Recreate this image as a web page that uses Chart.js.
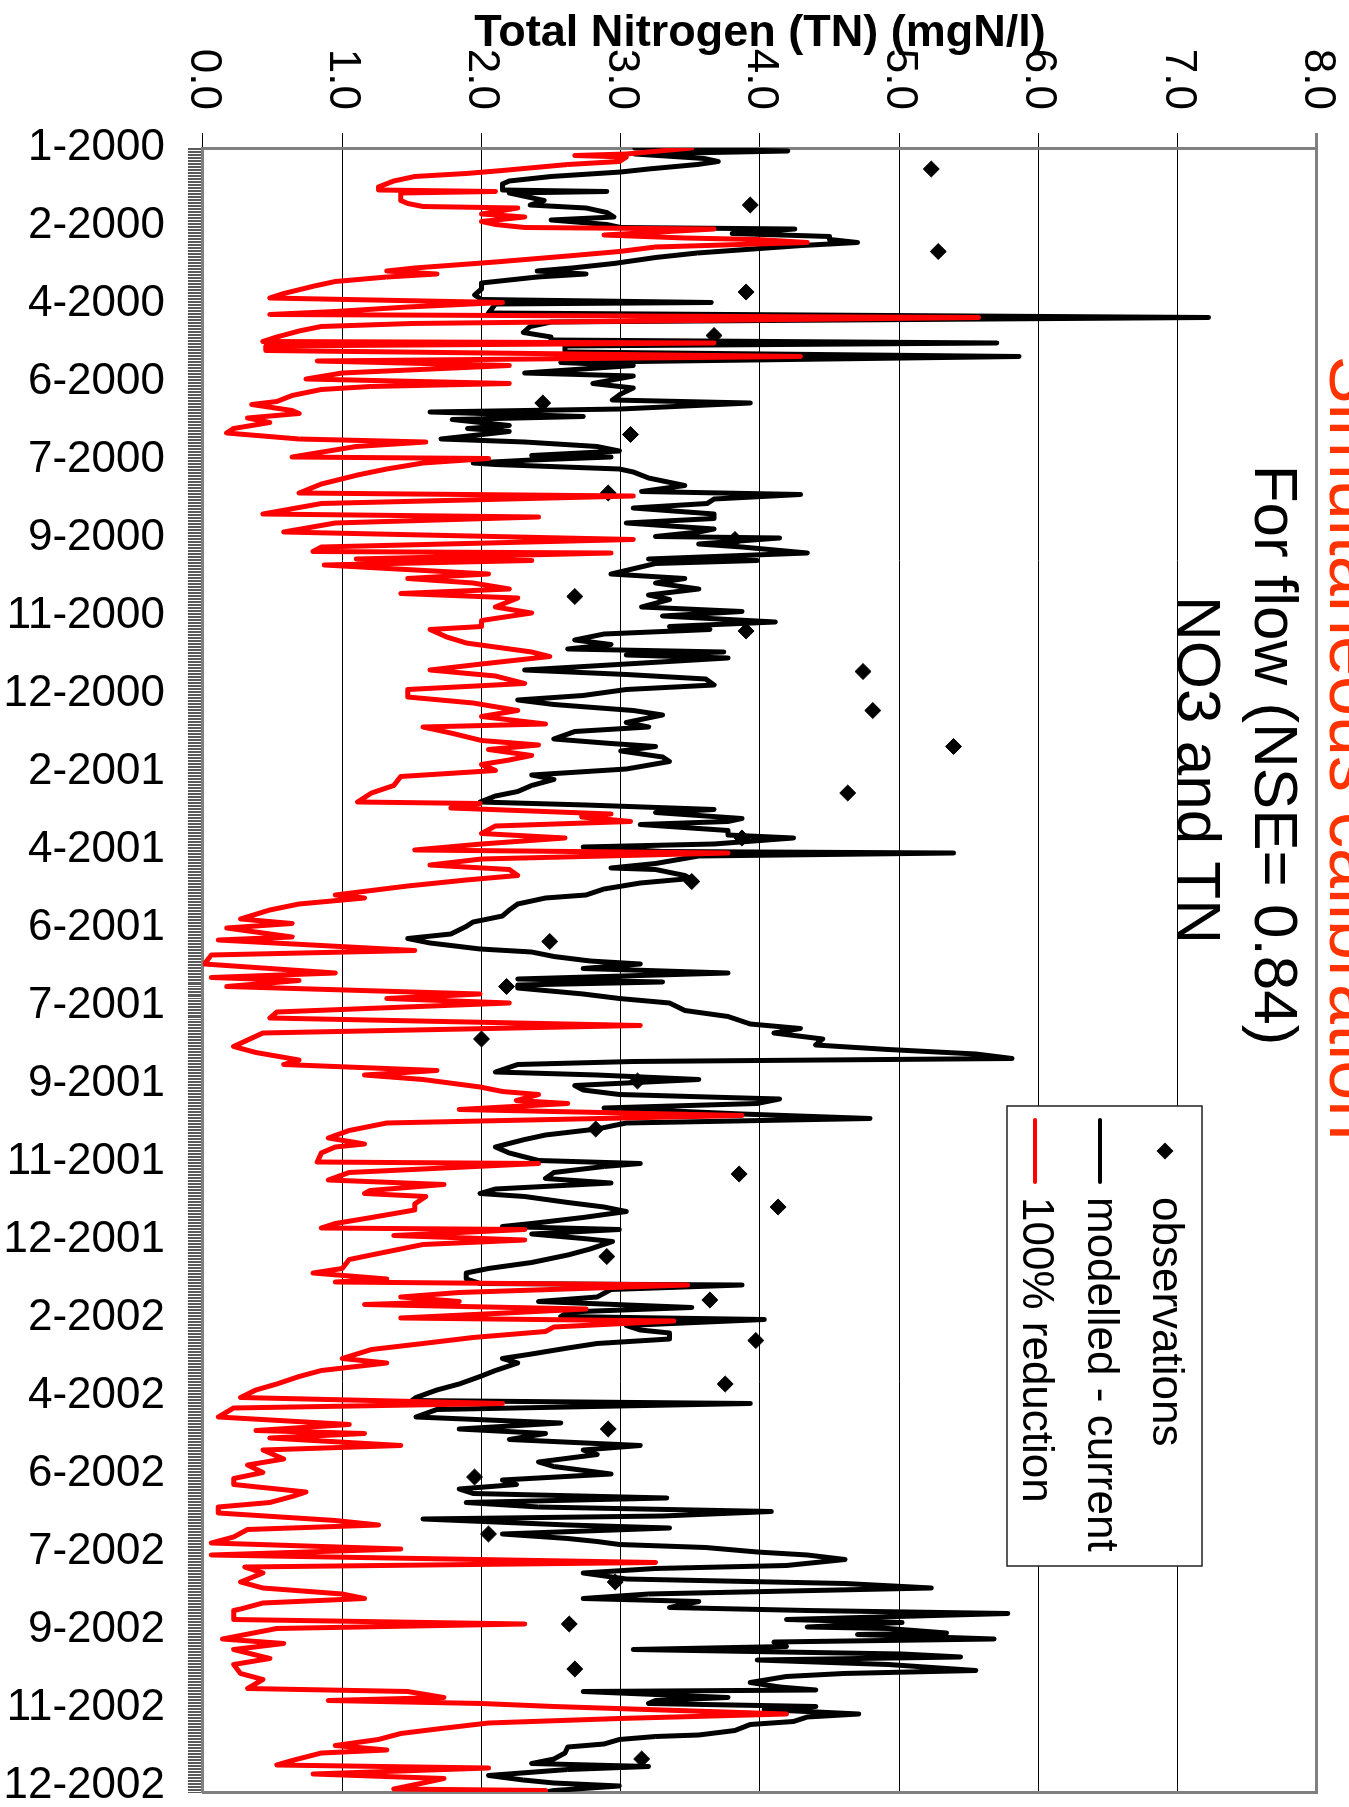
<!DOCTYPE html>
<html lang="en">
<head>
<meta charset="UTF-8">
<title>Total Nitrogen - simultaneous calibration</title>
<script src="https://cdn.jsdelivr.net/npm/chart.js"></script>
<style>
    html, body {
        margin: 0;
        padding: 0;
        background: #fff;
        overflow: hidden;
        width: 1349px;
        height: 1807px;
    }
    /* the chart is drawn landscape and turned a quarter clockwise */
    #wrap {
        position: absolute;
        left: 0;
        top: 0;
        width: 1807px;
        height: 1420px;
        transform-origin: 0 0;
        transform: translate(1420px, 0) rotate(90deg);
    }
</style>
</head>
<body>
<div id="wrap"><canvas id="tn" width="1807" height="1420"></canvas></div>
<script>
// day 0 = 1 Jan 2000, one category per day, a label every 52 days
const tickLabels = ['1-2000', '2-2000', '4-2000', '6-2000', '7-2000', '9-2000', '11-2000', '12-2000',
    '2-2001', '4-2001', '6-2001', '7-2001', '9-2001', '11-2001', '12-2001',
    '2-2002', '4-2002', '6-2002', '7-2002', '9-2002', '11-2002', '12-2002'];
const labelStep = 52;
const lastDay = 1096;

const titleLines = ['Simultaneous calibration', 'For flow (NSE= 0.84)', 'NO3 and TN'];
const seriesNames = ['observations', 'modelled - current', '100% reduction'];

const obsDays = [14, 38, 69, 96, 125, 170, 191, 230, 261, 299, 322, 349, 375, 399, 430, 460, 489, 529,
    559, 594, 622, 654, 684, 706, 739, 768, 795, 824, 854, 886, 924, 956, 984, 1014, 1074];
const obsVals = [5.23, 3.93, 5.28, 3.9, 3.67, 2.44, 3.07, 2.91, 3.82, 2.67, 3.9, 4.74, 4.81, 5.39, 4.63, 3.87, 3.51, 2.49,
    2.18, 2.0, 3.12, 2.82, 3.85, 4.13, 2.9, 3.64, 3.97, 3.75, 2.91, 1.95, 2.05, 2.96, 2.63, 2.67, 3.15];

const modDays = [0, 2, 4, 7, 9, 11, 14, 16, 19, 22, 24, 28, 29, 30, 32, 35, 38, 40, 43, 46, 48, 51, 53, 54, 57, 59,
    61, 63, 65, 68, 70, 73, 77, 80, 82, 84, 86, 88, 90, 94, 98, 101, 103, 104, 110, 113, 116, 119, 123, 126, 128,
    130, 132, 136, 139, 143, 145, 150, 152, 157, 160, 164, 168, 170, 174, 176, 179, 181, 185, 187, 189, 194, 196,
    199, 202, 205, 206, 208, 210, 211, 214, 216, 220, 225, 229, 231, 234, 237, 240, 244, 247, 250, 254, 256, 259,
    260, 264, 266, 270, 274, 275, 277, 284, 287, 290, 294, 298, 301, 306, 309, 312, 316, 319, 321, 324, 328, 331,
    334, 336, 338, 340, 344, 348, 351, 354, 358, 361, 365, 368, 371, 375, 378, 383, 386, 389, 394, 397, 399, 402,
    406, 409, 414, 418, 421, 425, 429, 432, 436, 438, 441, 443, 447, 449, 451, 455, 458, 460, 464, 466, 469, 470,
    472, 477, 480, 481, 485, 487, 490, 494, 498, 500, 504, 508, 512, 516, 519, 524, 527, 530, 534, 536, 539, 542,
    544, 547, 550, 554, 556, 558, 560, 564, 567, 570, 575, 579, 584, 587, 590, 594, 598, 601, 604, 607, 609, 611,
    616, 618, 621, 625, 628, 631, 634, 637, 640, 644, 647, 650, 654, 658, 661, 666, 670, 675, 677, 679, 683, 687,
    690, 694, 697, 699, 703, 706, 709, 713, 717, 719, 721, 724, 727, 729, 734, 738, 743, 747, 750, 754, 757, 758,
    761, 766, 769, 773, 776, 779, 781, 785, 788, 790, 794, 797, 800, 804, 807, 810, 815, 819, 824, 828, 833, 835,
    837, 841, 846, 850, 854, 857, 861, 865, 868, 871, 876, 879, 884, 888, 891, 894, 897, 900, 903, 906, 909, 912,
    914, 918, 920, 924, 927, 929, 931, 933, 936, 938, 941, 945, 947, 950, 954, 957, 960, 964, 967, 969, 973, 975,
    977, 981, 983, 986, 987, 990, 991, 994, 996, 999, 1001, 1004, 1006, 1008, 1011, 1015, 1017, 1019, 1023, 1026,
    1028, 1029, 1033, 1035, 1037, 1039, 1041, 1044, 1046, 1049, 1051, 1055, 1058, 1059, 1061, 1064, 1066, 1070,
    1074, 1077, 1079, 1081, 1085, 1088, 1090, 1092, 1095, 1096];
const modVals = [3.1, 4.2, 3.1, 3.6, 3.7, 3.55, 3.2, 3.0, 2.5, 2.2, 2.15, 2.15, 2.9, 2.2, 2.3, 2.45, 2.35, 2.75, 2.9,
    2.95, 2.5, 2.9, 3.0, 4.25, 3.8, 4.5, 4.5, 4.7, 4.3, 3.85, 3.55, 3.25, 2.95, 2.65, 2.4, 2.75, 2.4, 2.2, 2.0, 2.0,
    1.95, 2.0, 3.65, 2.1, 2.05, 7.22, 2.5, 2.35, 2.3, 2.5, 2.5, 5.7, 2.6, 2.6, 5.86, 2.57, 3.09, 2.31, 3.09, 2.8,
    3.09, 3.0, 2.94, 3.93, 3.0, 1.63, 2.73, 1.79, 2.2, 1.9, 2.2, 1.71, 2.31, 2.83, 2.99, 2.36, 2.93, 2.36, 1.94,
    2.1, 2.99, 3.09, 3.2, 3.46, 3.15, 4.29, 3.67, 3.62, 3.09, 3.67, 3.67, 3.04, 3.67, 3.56, 3.25, 4.14, 3.56, 3.87,
    4.34, 3.2, 3.98, 3.25, 2.93, 3.46, 3.25, 3.56, 3.2, 3.35, 3.15, 3.87, 3.3, 4.11, 3.35, 3.64, 2.88, 2.67, 2.93,
    2.62, 3.74, 3.04, 3.77, 3.04, 2.31, 3.04, 3.61, 3.67, 3.04, 2.73, 2.26, 2.52, 3.09, 3.3, 3.04, 3.2, 2.67, 2.52,
    2.93, 3.25, 3.0, 3.3, 3.35, 3.04, 2.36, 2.52, 2.36, 2.26, 2.1, 1.99, 2.75, 3.67, 3.25, 3.87, 3.77, 3.14, 3.77,
    3.77, 4.24, 3.67, 2.73, 3.3, 5.39, 3.56, 3.25, 2.93, 3.25, 3.46, 3.5, 3.14, 2.88, 2.75, 2.46, 2.26, 2.2, 2.15,
    1.94, 1.89, 1.78, 1.47, 1.63, 1.99, 2.36, 2.52, 2.78, 3.14, 2.73, 3.77, 2.26, 3.3, 2.26, 2.26, 2.73, 2.99, 3.35,
    3.46, 3.77, 3.93, 4.29, 4.1, 4.45, 4.4, 4.92, 5.55, 5.81, 3.09, 2.26, 2.1, 2.83, 3.56, 2.67, 2.73, 2.99, 4.14,
    3.98, 2.88, 3.87, 4.79, 3.04, 2.83, 2.46, 2.31, 2.1, 2.2, 2.41, 3.14, 2.88, 2.52, 2.46, 2.93, 2.1, 1.99, 2.31,
    2.62, 2.88, 3.04, 2.73, 2.36, 2.15, 2.99, 2.36, 2.73, 2.94, 2.78, 2.62, 2.36, 2.05, 1.89, 1.89, 1.99, 3.87,
    2.93, 2.83, 2.41, 3.51, 2.62, 2.57, 4.03, 3.04, 3.14, 3.35, 3.35, 2.83, 2.62, 2.36, 2.15, 2.26, 2.1, 1.99, 1.84,
    1.68, 1.53, 1.5, 3.93, 1.68, 1.53, 2.57, 1.84, 2.46, 2.2, 3.14, 2.73, 2.83, 2.41, 2.52, 2.93, 2.15, 2.25, 1.84,
    1.94, 3.33, 1.89, 2.41, 4.08, 3.3, 1.58, 2.62, 3.35, 2.15, 2.62, 2.83, 2.99, 3.61, 3.98, 4.34, 4.61, 4.19, 3.25,
    2.73, 3.04, 4.61, 5.23, 3.2, 2.73, 3.56, 3.35, 4.34, 5.78, 4.19, 5.02, 4.34, 4.92, 5.34, 4.7, 5.68, 4.1, 4.19,
    3.09, 5.02, 5.44, 3.98, 4.92, 5.55, 4.6, 4.19, 3.93, 4.14, 4.4, 2.73, 3.77, 3.25, 3.2, 4.4, 4.03, 4.71, 4.34,
    4.24, 3.93, 3.82, 3.56, 3.25, 2.99, 2.88, 2.62, 2.6, 2.52, 2.36, 3.2, 2.62, 2.05, 2.3, 2.52, 2.99, 2.52, 2.46];

const redDays = [0, 4, 5, 6, 9, 11, 15, 17, 19, 22, 26, 28, 29, 30, 35, 37, 39, 40, 44, 46, 49, 51, 53, 54, 58, 60,
    61, 63, 66, 69, 72, 76, 80, 82, 84, 86, 89, 92, 97, 100, 103, 106, 109, 111, 113, 117, 119, 122, 126, 129, 130,
    132, 135, 139, 142, 145, 150, 154, 157, 159, 161, 165, 169, 171, 175, 177, 180, 183, 187, 190, 194, 196, 199,
    206, 207, 210, 214, 218, 224, 230, 232, 237, 244, 246, 250, 256, 261, 266, 269, 270, 274, 275, 278, 284, 287,
    290, 294, 297, 300, 306, 310, 315, 319, 321, 326, 330, 336, 339, 344, 348, 352, 357, 361, 366, 370, 375, 379,
    384, 386, 390, 395, 398, 401, 405, 408, 411, 415, 419, 425, 430, 436, 437, 440, 444, 446, 449, 452, 457, 460,
    464, 468, 470, 474, 478, 481, 485, 488, 492, 498, 500, 504, 508, 514, 517, 520, 526, 528, 535, 538, 544, 550,
    553, 555, 559, 564, 567, 570, 576, 580, 585, 590, 599, 603, 608, 611, 615, 618, 621, 626, 629, 631, 635, 637,
    641, 645, 650, 655, 660, 664, 666, 670, 676, 677, 683, 688, 691, 695, 697, 699, 704, 708, 713, 717, 720, 721,
    725, 728, 731, 737, 741, 747, 750, 754, 756, 758, 763, 766, 769, 771, 774, 777, 780, 782, 786, 789, 793, 797,
    801, 807, 810, 815, 819, 824, 828, 833, 837, 840, 846, 851, 855, 857, 860, 865, 868, 874, 878, 883, 887, 891,
    896, 899, 903, 906, 910, 915, 918, 921, 926, 930, 934, 938, 943, 946, 950, 956, 960, 964, 967, 970, 974, 975,
    981, 984, 987, 994, 997, 1001, 1007, 1011, 1017, 1021, 1027, 1029, 1033, 1035, 1037, 1039, 1044, 1047, 1050,
    1054, 1057, 1061, 1065, 1068, 1070, 1075, 1078, 1080, 1084, 1087, 1090, 1094, 1095, 1096];
const redVals = [3.51, 3.04, 2.67, 3.04, 2.99, 2.62, 2.15, 1.89, 1.52, 1.37, 1.26, 1.26, 2.1, 1.42, 1.42, 1.47, 1.58,
    2.26, 2.0, 2.31, 2.0, 2.1, 2.31, 3.67, 2.88, 3.46, 3.98, 4.34, 3.25, 2.99, 2.62, 2.1, 1.52, 1.32, 1.68, 1.32,
    0.95, 0.8, 0.58, 0.48, 2.15, 1.47, 0.95, 0.48, 5.57, 1.5, 0.85, 0.69, 0.53, 0.43, 3.67, 0.45, 0.45, 4.29, 0.82,
    2.2, 1.0, 0.74, 2.2, 1.2, 0.85, 0.64, 0.53, 0.35, 0.64, 0.69, 0.32, 0.48, 0.22, 0.17, 0.69, 1.6, 1.1, 0.64,
    2.05, 1.58, 1.32, 1.11, 0.85, 0.69, 3.09, 0.85, 0.43, 2.41, 0.95, 0.58, 3.09, 0.85, 0.79, 2.93, 1.1, 2.36, 0.87,
    2.05, 1.47, 1.94, 2.2, 1.42, 2.26, 2.1, 2.36, 2.0, 2.0, 1.63, 1.75, 1.89, 2.36, 2.49, 2.0, 1.63, 2.1, 2.31,
    1.47, 1.47, 1.94, 2.26, 2.0, 2.46, 1.58, 1.78, 2.0, 2.41, 2.05, 2.36, 2.2, 2.0, 2.1, 1.42, 1.37, 1.21, 1.11,
    1.99, 1.78, 2.93, 2.72, 3.07, 2.1, 2.0, 2.6, 2.0, 1.52, 3.77, 2.0, 1.63, 2.2, 2.26, 1.89, 1.47, 0.95, 1.16,
    0.69, 0.48, 0.27, 0.64, 0.17, 0.64, 0.11, 1.52, 0.06, 0.01, 0.95, 0.06, 0.69, 0.17, 1.99, 1.32, 2.2, 0.53,
    0.48, 3.14, 0.43, 0.22, 0.38, 0.69, 0.58, 1.68, 1.16, 1.58, 1.99, 2.15, 2.41, 2.25, 2.62, 1.84, 3.87, 1.32,
    1.05, 0.9, 1.16, 0.95, 0.85, 0.82, 2.41, 1.05, 0.9, 1.73, 1.2, 1.16, 1.6, 1.52, 1.52, 1.21, 0.95, 0.85, 2.31,
    1.37, 2.31, 1.58, 1.26, 1.05, 1.0, 0.79, 1.32, 0.95, 3.48, 1.84, 1.42, 1.84, 1.16, 2.75, 2.1, 1.42, 3.38,
    2.52, 2.46, 1.94, 1.58, 1.21, 1.0, 1.32, 0.85, 0.69, 0.53, 0.38, 0.27, 2.15, 0.22, 0.11, 1.05, 0.38, 1.16,
    0.48, 1.42, 0.43, 0.58, 0.32, 0.43, 0.22, 0.22, 0.74, 0.64, 0.48, 0.11, 0.11, 0.95, 1.26, 0.32, 0.22, 0.06,
    1.42, 0.06, 3.25, 0.3, 0.43, 0.27, 0.43, 1.0, 1.16, 0.43, 0.27, 0.22, 0.22, 2.31, 0.53, 0.14, 0.58, 0.22,
    0.48, 0.22, 0.27, 0.43, 0.32, 1.47, 1.73, 0.9, 2.0, 2.52, 4.19, 2.99, 2.05, 1.68, 1.42, 1.26, 0.95, 1.32,
    0.85, 0.64, 0.53, 2.05, 0.79, 1.73, 1.58, 1.37, 2.46, 2.15];

const pts = (days, vals) => days.map((d, i) => ({ x: d, y: vals[i] }));

Chart.defaults.font.family = '"Liberation Sans", Arial, sans-serif';
Chart.defaults.color = '#000';

// title lines and the boxed legend sit inside the plot, so they are drawn here
const titleAndLegend = {
    id: 'titleAndLegend',
    afterDraw(chart) {
        const ctx = chart.ctx;
        ctx.save();
        ctx.textAlign = 'center';
        ctx.textBaseline = 'alphabetic';
        ctx.font = '72px "Liberation Sans", Arial, sans-serif';
        ctx.fillStyle = '#ff3300';
        ctx.fillText(titleLines[0], 748, 90);
        ctx.font = '62px "Liberation Sans", Arial, sans-serif';
        ctx.fillStyle = '#000';
        ctx.fillText(titleLines[1], 755, 165);
        ctx.fillText(titleLines[2], 770, 242);

        // legend box
        ctx.fillStyle = '#fff';
        ctx.strokeStyle = '#222';
        ctx.lineWidth = 1.5;
        ctx.fillRect(1106, 218, 460, 195);
        ctx.strokeRect(1106, 218, 460, 195);

        const rows = [255, 320, 385];
        const sets = chart.data.datasets;
        ctx.font = '44px "Liberation Sans", Arial, sans-serif';
        ctx.textAlign = 'left';
        ctx.textBaseline = 'middle';
        rows.forEach((y, i) => {
            const ds = sets[i];
            if (i === 0) {
                ctx.fillStyle = ds.pointBackgroundColor;
                ctx.beginPath();
                ctx.moveTo(1151 - 8.5, y);
                ctx.lineTo(1151, y - 8.5);
                ctx.lineTo(1151 + 8.5, y);
                ctx.lineTo(1151, y + 8.5);
                ctx.closePath();
                ctx.fill();
            } else {
                ctx.strokeStyle = ds.borderColor;
                ctx.lineWidth = 4;
                ctx.lineCap = 'round';
                ctx.beginPath();
                ctx.moveTo(1120, y);
                ctx.lineTo(1182, y);
                ctx.stroke();
            }
            ctx.fillStyle = '#000';
            ctx.fillText(seriesNames[i], 1197, y);
        });
        ctx.restore();
    }
};

new Chart(document.getElementById('tn'), {
    type: 'line',
    data: {
        datasets: [
            {
                label: seriesNames[0],
                data: pts(obsDays, obsVals),
                showLine: false,
                pointStyle: 'rectRot',
                pointRadius: 8,
                pointBorderWidth: 1,
                pointBackgroundColor: '#000',
                pointBorderColor: '#000',
                borderColor: '#000',
                order: 3
            },
            {
                label: seriesNames[1],
                data: pts(modDays, modVals),
                borderColor: '#000',
                borderWidth: 5,
                pointRadius: 0,
                order: 2
            },
            {
                label: seriesNames[2],
                data: pts(redDays, redVals),
                borderColor: '#ff0000',
                borderWidth: 5,
                pointRadius: 0,
                order: 1
            }
        ]
    },
    options: {
        responsive: false,
        animation: false,
        devicePixelRatio: 1,
        layout: { padding: { top: 103, left: 0, right: 0, bottom: 0 } },
        elements: { line: { tension: 0, borderJoinStyle: 'round', borderCapStyle: 'round' } },
        plugins: {
            legend: { display: false },
            tooltip: { enabled: false }
        },
        scales: {
            x: {
                type: 'linear',
                min: 0,
                max: lastDay,
                bounds: 'data',
                afterBuildTicks: ax => {
                    ax.ticks = [];
                    for (let d = 0; d <= lastDay; d++) ax.ticks.push({ value: d });
                },
                afterFit: ax => {
                    ax.height = 203;
                    ax.paddingLeft = 0;
                    ax.paddingRight = 0;
                },
                grid: { drawOnChartArea: false, tickLength: 15, color: '#5a5a5a', lineWidth: 1 },
                border: { display: true, color: '#808080', width: 3 },
                ticks: {
                    autoSkip: false,
                    minRotation: 90,
                    maxRotation: 90,
                    padding: 23,
                    font: { size: 44 },
                    callback: v => (v % labelStep === 0 ? tickLabels[v / labelStep] : '')
                }
            },
            y: {
                min: 0,
                max: 8,
                afterFit: ax => {
                    ax.width = 148;
                    ax.paddingTop = 0;
                    ax.paddingBottom = 0;
                },
                grid: {
                    color: c => (c.tick.value === 8 ? '#808080' : '#000'),
                    lineWidth: c => (c.tick.value === 8 ? 3 : 1),
                    tickLength: 15
                },
                border: { color: '#808080', width: 3 },
                ticks: { stepSize: 1, padding: 23, font: { size: 44 }, callback: v => v.toFixed(1) },
                title: {
                    display: true,
                    text: 'Total Nitrogen (TN) (mgN/l)',
                    font: { size: 45, weight: 'bold' },
                    padding: { top: 7, bottom: 0 }
                }
            },
            y2: {
                position: 'right',
                min: 0,
                max: 8,
                afterFit: ax => {
                    ax.width = 15;
                    ax.paddingTop = 0;
                    ax.paddingBottom = 0;
                },
                ticks: { display: false },
                grid: { drawOnChartArea: false, drawTicks: false },
                border: { color: '#808080', width: 3 }
            }
        }
    },
    plugins: [titleAndLegend]
});
</script>
</body>
</html>
